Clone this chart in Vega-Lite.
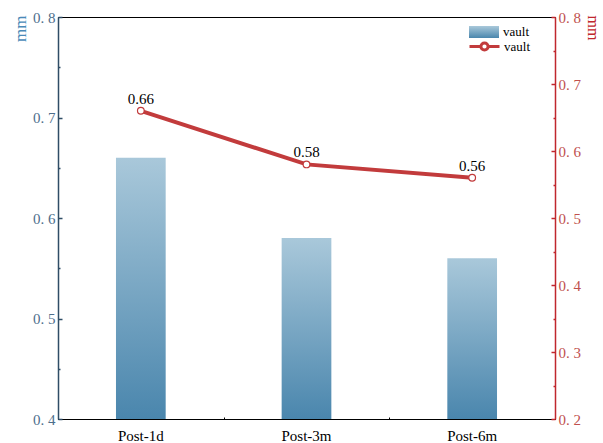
{
  "$schema": "https://vega.github.io/schema/vega-lite/v6.json",
  "width": 497,
  "height": 402,
  "autosize": {"type": "none"},
  "padding": {"left": 58, "top": 17, "right": 48, "bottom": 24},
  "background": "white",
  "config": {
    "view": {"stroke": "#000000", "strokeWidth": 1},
    "font": "Liberation Serif",
    "axis": {"grid": false}
  },
  "data": {
    "values": [
      {"period": "Post-1d", "value": 0.66, "series": "vault"},
      {"period": "Post-3m", "value": 0.58, "series": "vault"},
      {"period": "Post-6m", "value": 0.56, "series": "vault"}
    ]
  },
  "layer": [
    {
      "mark": {
        "type": "bar",
        "width": {"band": 0.3},
        "color": {
          "gradient": "linear",
          "x1": 0, "y1": 0, "x2": 0, "y2": 1,
          "stops": [
            {"offset": 0, "color": "#a9c8da"},
            {"offset": 1, "color": "#4a86ad"}
          ]
        }
      },
      "encoding": {
        "x": {
          "field": "period",
          "type": "nominal",
          "sort": null,
          "scale": {"paddingInner": 0, "paddingOuter": 0},
          "axis": {
            "orient": "bottom",
            "title": null,
            "labelAngle": 0,
            "labelColor": "#000000",
            "labelFontSize": 15,
            "labelPadding": 13,
            "domainColor": "#000000",
            "tickColor": "#000000",
            "tickSize": -4
          }
        },
        "y": {
          "field": "value",
          "type": "quantitative",
          "scale": {"domain": [0.4, 0.8], "zero": false, "nice": false},
          "axis": {
            "title": "mm",
            "titleColor": "#4a8ab8",
            "titleFontSize": 17,
            "titleFontWeight": "normal",
            "titleAnchor": "end",
            "titleAlign": "right",
            "titleY": -2,
            "titlePadding": 3,
            "values": [0.4, 0.45, 0.5, 0.55, 0.6, 0.65, 0.7, 0.75, 0.8],
            "labelExpr": "abs(round(datum.value * 10) - datum.value * 10) < 0.001 ? replace(format(datum.value, '.1f'), '.', '. ') : ''",
            "labelColor": "#4d6e8c",
            "labelFontSize": 15,
            "labelPadding": 7,
            "domainColor": "#2f4d66",
            "domainWidth": 1.5,
            "tickColor": "#2f4d66",
            "tickWidth": 1.5,
            "tickSize": {
              "condition": {"test": "abs(round(datum.value * 10) - datum.value * 10) < 0.001", "value": -4},
              "value": -2
            }
          }
        },
        "y2": {"datum": 0.4},
        "opacity": {
          "field": "series",
          "type": "nominal",
          "scale": {"range": [1]},
          "legend": {
            "title": null,
            "orient": "none",
            "legendX": 419,
            "legendY": 8,
            "symbolType": "M-2.5,-1H2.5V1H-2.5Z",
            "symbolSize": 144,
            "labelFontSize": 13,
            "labelColor": "#000000",
            "labelOffset": 12,
            "encode": {
              "symbols": {
                "update": {
                  "fill": {
                    "value": {
                      "gradient": "linear",
                      "x1": 0, "y1": 0, "x2": 0, "y2": 1,
                      "stops": [
                        {"offset": 0, "color": "#a9c8da"},
                        {"offset": 1, "color": "#4a86ad"}
                      ]
                    }
                  },
                  "stroke": {"value": "transparent"},
                  "opacity": {"value": 1}
                }
              }
            }
          }
        }
      }
    },
    {
      "mark": {"type": "tick", "opacity": 0},
      "encoding": {
        "x": {
          "field": "period",
          "type": "nominal",
          "sort": null,
          "axis": {
            "orient": "bottom",
            "title": null,
            "labels": false,
            "domain": false,
            "tickBand": "extent",
            "tickColor": "#000000",
            "tickSize": -2
          }
        }
      }
    },
    {
      "encoding": {
        "x": {"field": "period", "type": "nominal", "sort": null, "axis": null},
        "y": {
          "field": "value",
          "type": "quantitative",
          "scale": {"domain": [0.2, 0.8], "zero": false, "nice": false},
          "axis": {
            "orient": "right",
            "title": "mm",
            "titleColor": "#c0272d",
            "titleFontSize": 16,
            "titleFontWeight": "normal",
            "titleAnchor": "end",
            "titleAlign": "left",
            "titleY": -2,
            "titlePadding": 4,
            "values": [0.2, 0.25, 0.3, 0.35, 0.4, 0.45, 0.5, 0.55, 0.6, 0.65, 0.7, 0.75, 0.8],
            "labelExpr": "abs(round(datum.value * 10) - datum.value * 10) < 0.001 ? replace(format(datum.value, '.1f'), '.', '. ') : ''",
            "labelColor": "#c0504d",
            "labelFontSize": 15,
            "labelPadding": 7,
            "domainColor": "#c0272d",
            "domainWidth": 1.5,
            "tickColor": "#c0272d",
            "tickWidth": 1.5,
            "tickSize": {
              "condition": {"test": "abs(round(datum.value * 10) - datum.value * 10) < 0.001", "value": -4},
              "value": -2
            }
          }
        }
      },
      "layer": [
        {
          "mark": {"type": "line", "strokeWidth": 4},
          "encoding": {
            "stroke": {
              "field": "series",
              "type": "nominal",
              "scale": {"range": ["#c23b3c"]},
              "legend": {
                "title": null,
                "orient": "none",
                "legendX": 419,
                "legendY": 22,
                "symbolType": "M-2.5,0H-0.6M0.6,0H2.5M0.6,0A0.6,0.6,0,1,1,-0.6,0A0.6,0.6,0,1,1,0.6,0",
                "symbolSize": 144,
                "symbolStrokeWidth": 3,
                "symbolFillColor": "#ffffff",
                "labelFontSize": 13,
                "labelColor": "#000000",
                "labelOffset": 12
              }
            }
          }
        },
        {
          "mark": {"type": "point", "filled": true, "fill": "#ffffff", "stroke": "#c23b3c", "strokeWidth": 1.2, "size": 45, "opacity": 1}
        },
        {
          "mark": {"type": "text", "dy": -12, "fontSize": 15, "color": "#000000"},
          "encoding": {"text": {"field": "value", "type": "quantitative", "format": ".2f"}}
        }
      ]
    }
  ],
  "resolve": {"scale": {"y": "independent"}, "axis": {"x": "independent"}}
}
